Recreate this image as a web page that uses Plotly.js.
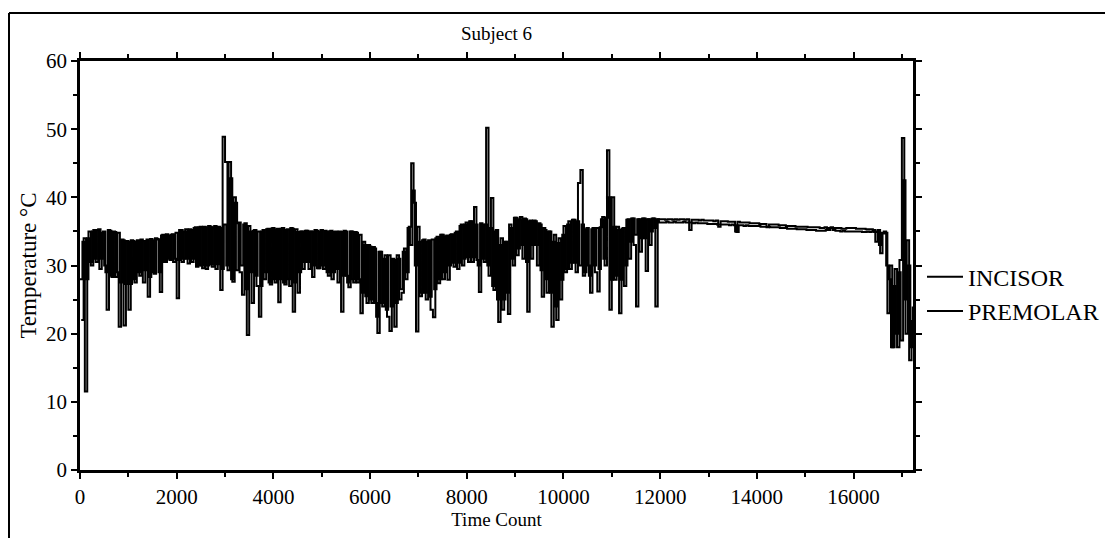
<!DOCTYPE html>
<html>
<head>
<meta charset="utf-8">
<script src="https://cdn.plot.ly/plotly-3.0.1.min.js"></script>
<style>
html,body{margin:0;padding:0;background:#fff;}
#chart{width:1105px;height:538px;}
</style>
</head>
<body>
<div id="chart"></div>
<script>
// Time count sampling (counts): INCISOR starts at 0, PREMOLAR at 25, both every 50 counts
var incisorStart = 0, premolarStart = 25, sampleStep = 50;

// Temperature (°C), one row per 1000 counts
var incisorTemp = [
  28.0, 33.5, 11.5, 34.0, 30.5, 35.0, 31.0, 35.2, 29.5, 34.8, 30.0, 23.5, 35.1, 28.3, 34.9, 29.0, 21.0, 33.8, 21.2, 33.6,
  23.5, 33.7, 28.0, 33.5, 29.0, 33.8, 27.5, 33.6, 25.4, 33.9, 29.0, 34.0, 33.8, 26.1, 34.5, 30.5, 34.4, 30.8, 34.6, 31.0,
  25.2, 35.2, 30.5, 35.0, 31.0, 35.3, 30.5, 35.5, 29.8, 35.6, 30.0, 35.7, 29.5, 35.8, 30.2, 35.6, 29.5, 35.7, 26.4, 48.9,
  45.2, 29.3, 42.8, 27.6, 39.2, 36.2, 29.0, 25.7, 36.2, 19.8, 35.0, 24.5, 35.2, 27.0, 22.5, 35.0, 28.0, 35.3, 27.5, 35.4,
  28.0, 35.3, 24.6, 35.4, 27.5, 35.2, 28.0, 35.5, 23.2, 35.3, 26.0, 35.0, 29.5, 35.1, 30.5, 35.0, 28.3, 35.2, 29.6, 35.0,
  30.0, 35.1, 29.0, 35.0, 28.0, 34.9, 29.5, 35.0, 23.2, 35.1, 28.5, 26.8, 35.0, 27.5, 34.8, 28.0, 23.0, 33.5, 25.5, 33.0,
  25.0, 32.7, 24.5, 20.1, 32.0, 24.0, 31.5, 22.5, 20.4, 31.0, 21.0, 31.5, 25.0, 26.0, 32.5, 29.0, 35.7, 45.0, 39.2, 20.3,
  33.5, 26.0, 33.8, 25.0, 33.7, 23.5, 22.4, 34.0, 27.4, 34.5, 28.0, 34.3, 27.9, 34.5, 30.4, 34.8, 29.5, 35.8, 30.0, 36.0,
  31.2, 36.5, 30.5, 38.6, 30.8, 26.1, 36.0, 30.5, 50.2, 28.5, 39.9, 26.4, 35.2, 21.7, 34.0, 25.0, 33.5, 22.9, 35.5, 30.0,
  37.0, 32.5, 37.1, 31.0, 36.8, 23.2, 36.6, 33.0, 36.5, 30.0, 36.0, 25.4, 35.2, 26.0, 35.0, 21.0, 34.5, 22.0, 34.0, 27.9,
  35.8, 29.5, 36.5, 30.4, 36.7, 29.0, 42.1, 44.0, 28.5, 35.3, 30.0, 26.0, 35.5, 29.0, 26.2, 35.6, 37.1, 30.0, 46.9, 23.5,
  40.0, 27.9, 35.7, 23.0, 35.4, 27.0, 36.7, 31.0, 36.9, 33.0, 24.0, 36.8, 34.0, 36.9, 29.2, 36.8, 35.0, 36.9, 24.0, 36.8,
  36.8, 36.8, 36.7, 36.8, 36.8, 36.7, 36.8, 36.7, 36.8, 36.8, 36.7, 36.8, 35.2, 36.7, 36.7, 36.7, 36.6, 36.7, 36.6, 36.6,
  36.6, 36.6, 36.5, 36.6, 35.7, 36.5, 36.5, 36.5, 36.4, 36.4, 36.4, 35.0, 36.4, 36.3, 36.3, 36.3, 36.3, 36.2, 36.2, 36.2,
  36.2, 36.1, 36.1, 36.1, 35.6, 36.0, 36.0, 36.0, 36.0, 35.9, 35.9, 35.9, 35.8, 35.8, 35.8, 35.8, 35.7, 35.7, 35.7, 35.7,
  35.7, 35.6, 35.6, 35.6, 35.6, 35.6, 35.5, 35.5, 35.6, 35.5, 35.5, 35.5, 35.5, 35.5, 35.5, 35.4, 35.4, 35.5, 35.5, 35.5,
  35.5, 35.4, 35.4, 35.4, 35.4, 35.3, 35.3, 35.3, 35.2, 33.5, 35.2, 31.8, 34.7, 34.8, 23.0, 30.0, 18.0, 29.5, 18.0, 30.8,
  48.7, 25.0, 33.7, 16.1, 22.0
];
var premolarTemp = [
  22.0, 34.0, 28.0, 35.0, 30.0, 35.2, 30.5, 35.3, 31.0, 35.0, 29.0, 35.2, 28.5, 35.0, 28.3, 34.8, 27.5, 33.7, 27.3, 33.5,
  27.3, 33.6, 27.5, 33.7, 28.5, 33.6, 29.3, 33.8, 28.3, 33.7, 28.8, 33.9, 29.0, 34.4, 30.5, 34.6, 31.0, 34.5, 30.5, 34.8,
  30.8, 35.2, 31.0, 35.3, 30.3, 35.2, 31.0, 35.6, 30.0, 35.7, 29.6, 35.6, 30.0, 35.7, 29.8, 35.8, 30.2, 35.5, 29.5, 36.0,
  30.0, 45.2, 28.0, 40.0, 29.3, 36.3, 30.0, 36.0, 26.5, 35.8, 29.0, 35.1, 28.5, 35.0, 27.0, 35.2, 29.0, 35.4, 27.2, 35.5,
  27.5, 35.4, 28.0, 35.5, 27.2, 35.3, 27.0, 35.4, 27.5, 34.9, 29.0, 35.0, 30.5, 35.1, 29.5, 35.0, 30.0, 35.1, 29.6, 35.2,
  29.5, 35.0, 28.5, 35.1, 29.0, 35.0, 27.5, 34.9, 28.5, 35.0, 27.5, 35.0, 28.0, 34.9, 27.5, 34.5, 26.0, 33.0, 24.5, 32.8,
  24.5, 32.5, 22.5, 32.0, 24.5, 31.0, 23.5, 31.5, 24.0, 30.8, 24.5, 31.0, 26.5, 32.0, 28.0, 35.5, 33.0, 41.0, 30.0, 35.7,
  25.5, 33.7, 26.0, 33.5, 25.4, 33.8, 26.5, 34.2, 28.0, 34.5, 29.0, 34.4, 30.0, 34.6, 29.8, 35.0, 30.4, 36.0, 31.0, 36.3,
  30.5, 36.5, 31.2, 36.0, 30.0, 36.2, 31.0, 36.0, 30.0, 35.5, 27.0, 35.0, 25.0, 33.0, 23.5, 33.5, 26.0, 36.0, 31.0, 37.0,
  31.5, 36.8, 33.0, 36.9, 30.5, 36.5, 31.0, 36.6, 33.0, 36.2, 29.3, 35.5, 28.0, 35.0, 26.0, 33.5, 24.0, 33.3, 25.0, 34.5,
  29.0, 36.0, 29.5, 36.7, 30.4, 36.5, 30.0, 36.0, 29.0, 35.5, 28.5, 35.3, 30.0, 35.5, 29.5, 36.8, 31.0, 37.0, 40.0, 27.9,
  35.7, 28.5, 35.2, 27.9, 35.5, 30.0, 36.8, 33.5, 36.9, 34.5, 36.8, 32.0, 36.9, 34.0, 36.8, 33.0, 36.9, 35.5, 36.8, 36.3,
  36.3, 36.3, 36.4, 36.3, 36.3, 36.4, 36.3, 36.3, 36.3, 36.4, 36.3, 36.3, 36.3, 36.2, 36.3, 36.2, 36.2, 36.2, 36.2, 36.1,
  36.1, 36.1, 36.1, 36.0, 36.0, 36.0, 36.0, 36.0, 35.9, 36.0, 35.9, 34.9, 35.9, 35.9, 35.8, 35.9, 35.8, 35.8, 35.8, 35.8,
  35.8, 35.7, 35.7, 35.7, 35.7, 35.6, 35.6, 35.6, 35.6, 35.5, 35.5, 35.5, 35.4, 35.4, 35.4, 35.4, 35.3, 35.3, 35.3, 35.3,
  35.2, 35.2, 35.2, 35.2, 35.1, 35.1, 35.1, 35.1, 35.2, 35.2, 35.6, 35.2, 35.1, 35.1, 35.0, 35.1, 35.0, 35.0, 35.0, 35.0,
  35.0, 35.0, 35.0, 34.9, 34.9, 35.0, 34.9, 35.0, 34.9, 35.0, 33.0, 34.8, 35.0, 30.0, 28.0, 18.0, 27.0, 20.0, 29.0, 19.0,
  42.5, 20.0, 30.0, 18.0, 24.0
];
var seriesNames = ["INCISOR", "PREMOLAR"];
var xTickVals = [0, 2000, 4000, 6000, 8000, 10000, 12000, 14000, 16000];
var yTickVals = [0, 10, 20, 30, 40, 50, 60];

var FONT = "Liberation Serif, Times New Roman, serif";

var traces = [
  {type: "scatter", mode: "lines", name: seriesNames[0], x0: incisorStart, dx: sampleStep,
   y: incisorTemp, line: {color: "#000", width: 2, shape: "hv"}, legendgroup: "a"},
  {type: "scatter", mode: "lines", name: seriesNames[1], x0: premolarStart, dx: sampleStep,
   y: premolarTemp, line: {color: "#000", width: 2, shape: "hv"}, legendgroup: "b"}
];

var axisCommon = {
  showgrid: false, zeroline: false, showline: true, linecolor: "#000", linewidth: 2.5,
  mirror: "ticks", ticks: "outside", ticklen: 6, tickwidth: 2, tickcolor: "#000",
  tickfont: {family: FONT, size: 21, color: "#000"}
};

var layout = {
  width: 1105, height: 538,
  paper_bgcolor: "#fff", plot_bgcolor: "#fff",
  margin: {l: 80, r: 192, t: 61, b: 68},
  title: {text: "Subject 6", font: {family: FONT, size: 19, color: "#000"},
          x: 0.5, xref: "paper", xanchor: "center", y: 1 - 33/538, yanchor: "middle"},
  xaxis: Object.assign({}, axisCommon, {
    range: [0, 17230], tickvals: xTickVals, ticktext: xTickVals.map(String),
    minor: {dtick: 1000, tick0: 0, ticklen: 4, tickwidth: 2, tickcolor: "#000", ticks: "outside"},
    title: {text: "Time Count", font: {family: FONT, size: 19, color: "#000"}, standoff: 5}
  }),
  yaxis: Object.assign({}, axisCommon, {
    range: [0, 60], tickvals: yTickVals, ticktext: yTickVals.map(String),
    minor: {dtick: 5, tick0: 0, ticklen: 4, tickwidth: 2, tickcolor: "#000", ticks: "outside"},
    title: {text: "Temperature °C", font: {family: FONT, size: 23, color: "#000"}, standoff: 3}
  }),
  showlegend: true,
  legend: {xref: "container", x: 922/1105, xanchor: "left",
           yref: "paper", y: 0.43, yanchor: "middle",
           font: {family: FONT, size: 24, color: "#000"}, bgcolor: "rgba(0,0,0,0)",
           itemwidth: 36, tracegroupgap: 0, traceorder: "grouped", borderwidth: 0},
  shapes: [
    {type: "line", xref: "paper", yref: "paper", x0: (9-80)/833, x1: (9-80)/833,
     y0: (470-13)/409, y1: (470-540)/409, line: {color: "#000", width: 2}},
    {type: "line", xref: "paper", yref: "paper", x0: (9-80)/833, x1: (1106-80)/833,
     y0: (470-13)/409, y1: (470-13)/409, line: {color: "#000", width: 2}}
  ]
};

Plotly.newPlot("chart", traces, layout, {displayModeBar: false, responsive: false});
</script>
</body>
</html>
